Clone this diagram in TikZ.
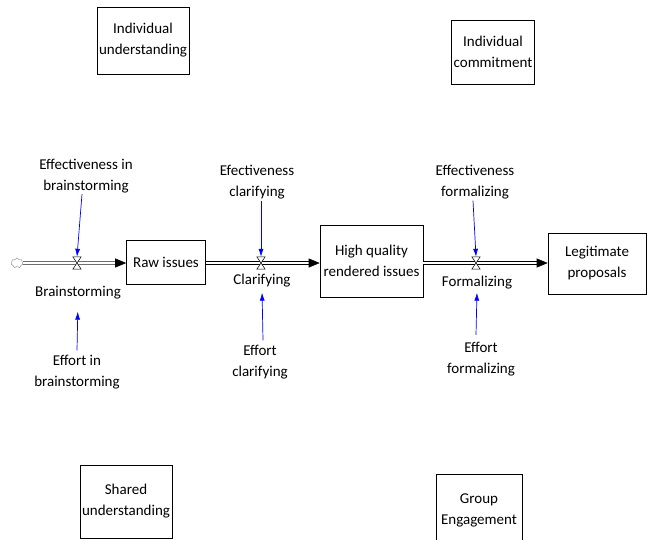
\documentclass[tikz,border=0pt]{standalone}
\usepackage{fontspec}
\setmainfont{Carlito}
\usetikzlibrary{arrows.meta, shapes.symbols}

\begin{document}
\begin{tikzpicture}[
    x=1pt, y=-1pt,
    font=\fontsize{15}{21}\selectfont,
    stock/.style={rectangle, draw, line width=0.6pt, align=center, inner sep=2pt},
    lbl/.style={align=center, inner sep=1pt},
    valve/.style={inner sep=0pt, minimum width=8pt, minimum height=12pt},
    pipe/.style={double, double distance=2.2pt, line width=0.6pt, -{Triangle[length=11pt, width=9pt]}},
    infl/.style={blue, line width=0.7pt, -{Latex[length=8pt, width=5pt]}}
]
\useasboundingbox (0,0) rectangle (647,539);

% loose boxes
\node[stock, minimum width=90pt, minimum height=67pt] (iu) at (143,40.5) {Individual\\understanding};
\node[stock, minimum width=82pt, minimum height=64pt] (ic) at (493,52) {Individual\\commitment};
\node[stock, minimum width=92pt, minimum height=73pt] (su) at (126,501.5) {Shared\\understanding};
\node[stock, minimum width=86pt, minimum height=72pt] (ge) at (479,510) {Group\\Engagement};

% stocks
\node[stock, minimum width=79pt, minimum height=44pt] (raw) at (166,262) {Raw issues};
\node[stock, minimum width=103pt, minimum height=72pt] (hq) at (371.5,261) {High quality\\rendered issues};
\node[stock, minimum width=98pt, minimum height=61pt] (legit) at (597,263.5) {Legitimate\\proposals};

% source and valves
\node[cloud, draw=gray, cloud puffs=7, minimum width=12pt, minimum height=10pt, inner sep=0pt] (src) at (17,263) {};
\node[valve] (v1) at (77,263) {};
\node[valve] (v2) at (261,263) {};
\node[valve] (v3) at (476,263) {};

% flows
\draw[pipe] (src.east) -- (v1 -| raw.west);
\draw[pipe] (v2 -| raw.east) -- (v2 -| hq.west);
\draw[pipe] (v3 -| hq.east) -- (v3 -| legit.west);
\foreach \v in {v1,v2,v3}
  \draw[fill=white, line width=0.5pt] (\v.north west) -- (\v.north east) -- (\v.south west) -- (\v.south east) -- cycle;

% rate labels
\node[lbl] (effB) at (86,176) {Effectiveness in\\brainstorming};
\node[lbl] (brain) at (78,293) {Brainstorming};
\node[lbl] (effoB) at (77,372.5) {Effort in\\brainstorming};
\node[lbl] (effC) at (257,182.5) {Efectiveness\\clarifying};
\node[lbl] (clar) at (262,281) {Clarifying};
\node[lbl] (effoC) at (260,362.5) {Effort\\clarifying};
\node[lbl] (effF) at (475,182.5) {Effectiveness\\formalizing};
\node[lbl] (form) at (477,283) {Formalizing};
\node[lbl] (effoF) at (481,359) {Effort\\formalizing};

% influences
\draw[infl] ([xshift=-4pt]effB.south) -- (v1.north);
\draw[infl] ([yshift=4pt]effoB.north) -- (brain.south) [shorten >=11pt];
\draw[infl] ([xshift=4pt]effC.south) -- (v2.north);
\draw[infl, shorten >=4pt] ([xshift=3pt, yshift=4pt]effoC.north) -- (clar.south);
\draw[infl] ([xshift=-2pt]effF.south) -- (v3.north);
\draw[infl, shorten >=2pt] ([xshift=-5pt, yshift=6pt]effoF.north) -- (form.south);
\end{tikzpicture}
\end{document}
